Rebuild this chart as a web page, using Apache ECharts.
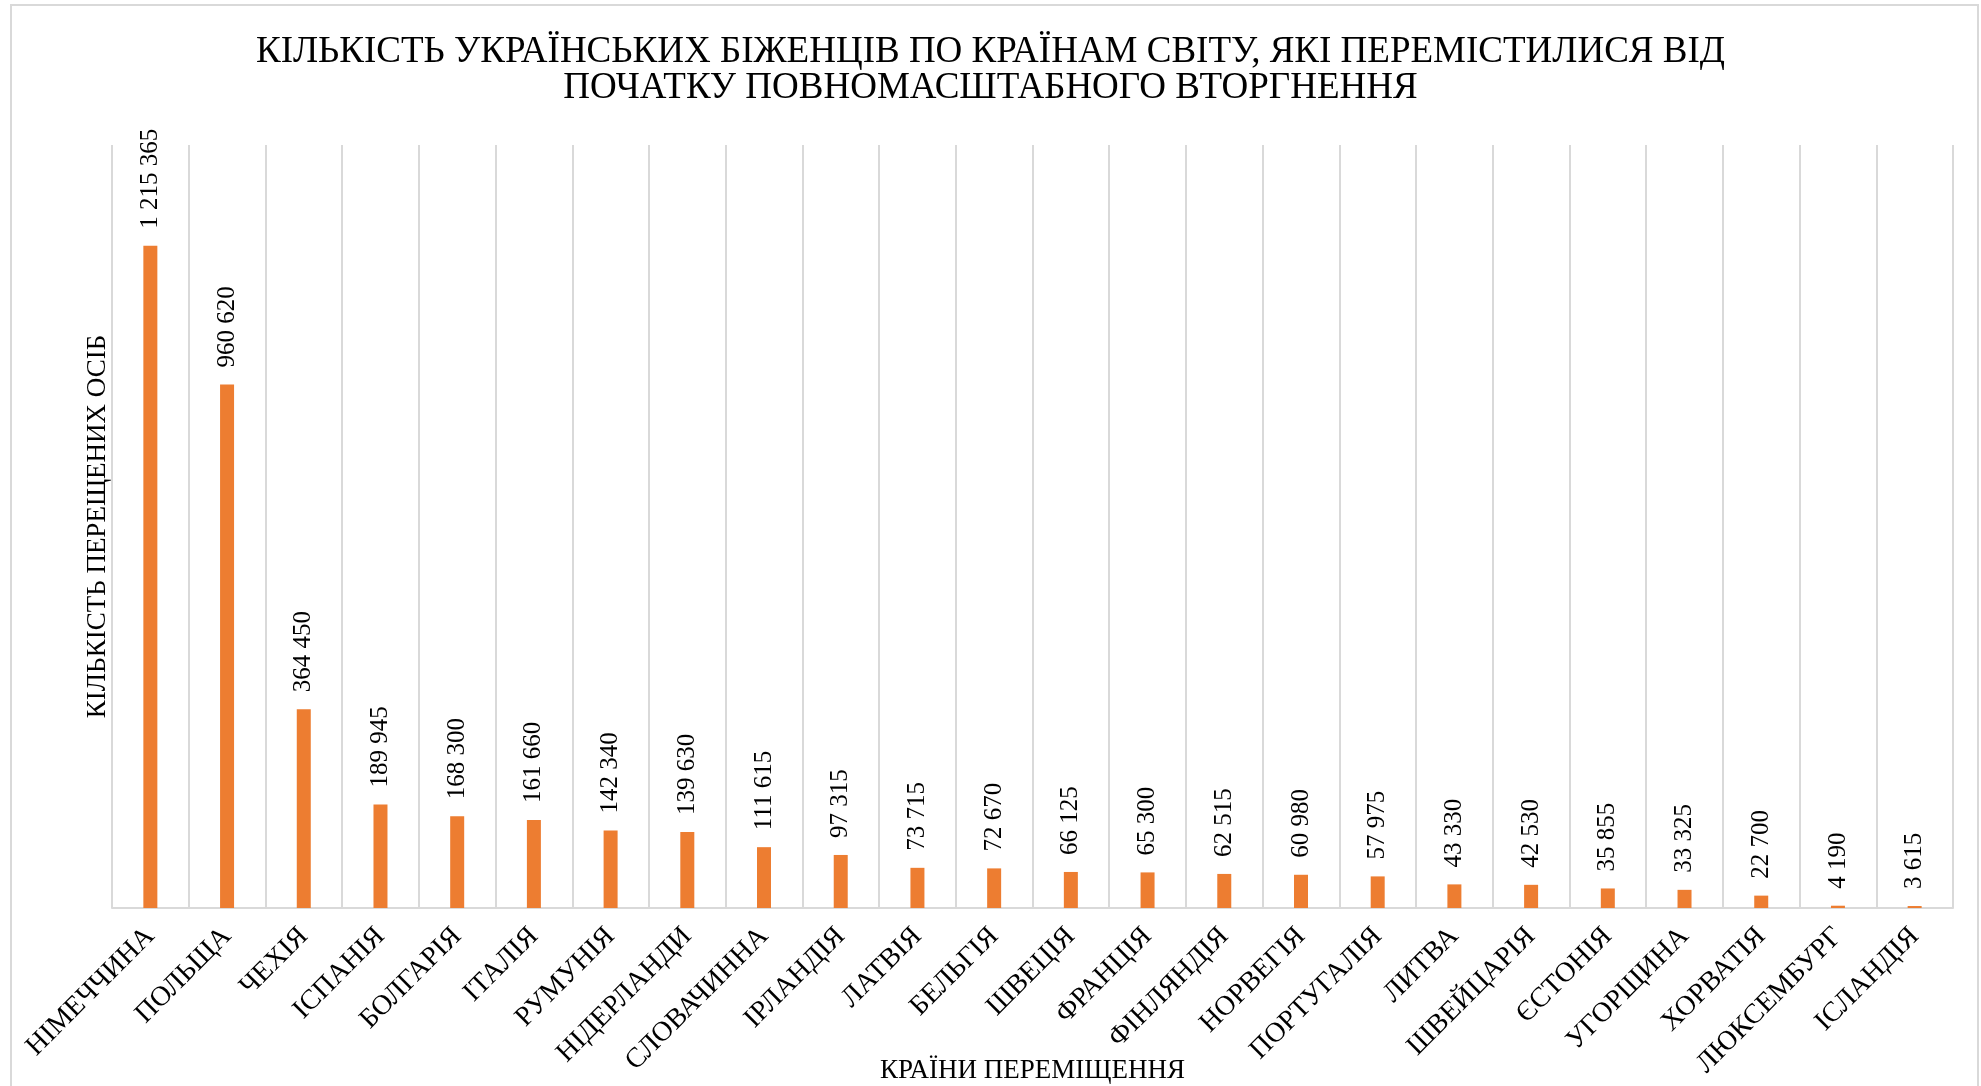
<!DOCTYPE html>
<html>
<head>
<meta charset="utf-8">
<title>Біженці</title>
<script src="https://cdn.jsdelivr.net/npm/echarts@6/dist/echarts.min.js"></script>
<style>
  html, body { margin: 0; padding: 0; background: #fff; }
  #chart { width: 1981px; height: 1086px; }
</style>
</head>
<body>
<div id="chart"></div>
<script>
const countries = [
  'НІМЕЧЧИНА', 'ПОЛЬЩА', 'ЧЕХІЯ', 'ІСПАНІЯ', 'БОЛГАРІЯ', 'ІТАЛІЯ',
  'РУМУНІЯ', 'НІДЕРЛАНДИ', 'СЛОВАЧИННА', 'ІРЛАНДІЯ', 'ЛАТВІЯ', 'БЕЛЬГІЯ',
  'ШВЕЦІЯ', 'ФРАНЦІЯ', 'ФІНЛЯНДІЯ', 'НОРВЕГІЯ', 'ПОРТУГАЛІЯ', 'ЛИТВА',
  'ШВЕЙЦАРІЯ', 'ЄСТОНІЯ', 'УГОРЩИНА', 'ХОРВАТІЯ', 'ЛЮКСЕМБУРГ', 'ІСЛАНДІЯ'
]
const refugees = [
  1215365, 960620, 364450, 189945, 168300, 161660,
  142340, 139630, 111615, 97315, 73715, 72670,
  66125, 65300, 62515, 60980, 57975, 43330,
  42530, 35855, 33325, 22700, 4190, 3615
]

const serif = 'Liberation Serif, Times New Roman, serif'
const gridColor = '#d9d9d9'

// 1 215 365
function spaced(v) {
  return String(v).replace(/\B(?=(\d{3})+(?!\d))/g, ' ')
}

const chart = echarts.init(document.getElementById('chart'))

chart.setOption({
  backgroundColor: '#fff',
  animation: false,
  title: {
    text: 'КІЛЬКІСТЬ УКРАЇНСЬКИХ БІЖЕНЦІВ ПО КРАЇНАМ СВІТУ, ЯКІ ПЕРЕМІСТИЛИСЯ ВІД\nПОЧАТКУ ПОВНОМАСШТАБНОГО ВТОРГНЕННЯ',
    left: 'center',
    top: 29,
    textStyle: {
      fontFamily: serif,
      fontWeight: 'normal',
      fontSize: 37,
      lineHeight: 36,
      color: '#000',
      align: 'center'
    }
  },
  graphic: [{
    type: 'rect',
    shape: { x: 11, y: 5, width: 1967, height: 1100 },
    style: { fill: 'none', stroke: gridColor, lineWidth: 2 },
    silent: true
  }],
  grid: {
    left: 112,
    right: 28,
    top: 145,
    bottom: 178,
    outerBoundsMode: 'none'
  },
  xAxis: {
    type: 'category',
    data: countries,
    name: 'КРАЇНИ ПЕРЕМІЩЕННЯ',
    nameLocation: 'middle',
    nameGap: 149,
    nameMoveOverlap: false,
    nameTextStyle: { fontFamily: serif, fontSize: 27, color: '#000' },
    axisLine: { lineStyle: { color: gridColor, width: 2 } },
    axisTick: { show: false },
    splitLine: { show: true, lineStyle: { color: gridColor, width: 2 } },
    axisLabel: {
      rotate: 45,
      margin: 24,
      interval: 0,
      fontFamily: serif,
      fontSize: 28,
      color: '#000'
    }
  },
  yAxis: {
    type: 'value',
    min: 0,
    max: 1400000,
    name: 'КІЛЬКІСТЬ ПЕРЕЩЕНИХ ОСІБ',
    nameLocation: 'middle',
    nameGap: 1,
    nameRotate: 90,
    nameTextStyle: { fontFamily: serif, fontSize: 27, color: '#000' },
    axisLine: { show: false },
    axisTick: { show: false },
    axisLabel: { show: false },
    splitLine: { show: false }
  },
  series: [{
    type: 'bar',
    data: refugees,
    barWidth: 14,
    itemStyle: { color: '#ed7d31' },
    label: {
      show: true,
      position: 'top',
      rotate: 90,
      align: 'left',
      verticalAlign: 'middle',
      distance: 17,
      fontFamily: serif,
      fontSize: 25,
      color: '#000',
      formatter: p => spaced(p.value)
    }
  }]
})
</script>
</body>
</html>
